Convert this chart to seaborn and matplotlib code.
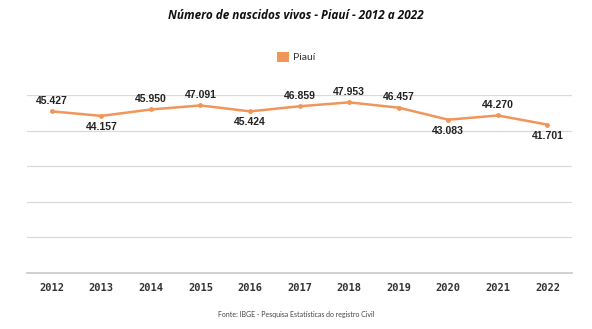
import matplotlib
matplotlib.use("Agg")
import matplotlib.pyplot as plt
import seaborn as sns
import pandas as pd
from matplotlib.patches import Patch

years = ["2012", "2013", "2014", "2015", "2016", "2017", "2018", "2019", "2020", "2021", "2022"]
values = [45427, 44157, 45950, 47091, 45424, 46859, 47953, 46457, 43083, 44270, 41701]
labels = ["45.427", "44.157", "45.950", "47.091", "45.424", "46.859", "47.953", "46.457", "43.083", "44.270", "41.701"]
above = [True, False, True, True, False, True, True, True, False, True, False]

sns.set_style("white")
plt.rcParams['font.family'] = ['DejaVu Sans']

df = pd.DataFrame({"Ano": years, "Nascidos": values})
color = "#F0965A"

fig = plt.figure(figsize=(5.92, 3.29), dpi=100)
ax = fig.add_axes([0.0456, 0.170, 0.921, 0.541])
sns.lineplot(data=df, x="Ano", y="Nascidos", ax=ax, color=color, linewidth=1.8,
             marker="o", markersize=3.5, markeredgewidth=0, sort=False)
ax.set_xlim(-0.5, len(years) - 0.5)
ax.set_ylim(0, 50000)
ax.set_yticks(range(0, 50001, 10000))
ax.set_yticklabels([])
ax.grid(axis="y", color="#D9D9D9", linewidth=0.9)
ax.tick_params(axis="y", length=0)
ax.tick_params(axis="x", length=0, pad=7)
for t in ax.get_xticklabels():
    t.set_fontweight("bold")
    t.set_color("#333333")
    t.set_family("DejaVu Sans Mono")
    t.set_fontsize(7.5)
for s in ["top", "right", "left"]:
    ax.spines[s].set_visible(False)
ax.spines["bottom"].set_color("#C8C8C8")
ax.spines["bottom"].set_linewidth(1.2)
ax.set_xlabel("")
ax.set_ylabel("")

for i, (v, lab, up) in enumerate(zip(values, labels, above)):
    ax.annotate(lab, (i, v), xytext=(0, 7.5 if up else -8), textcoords="offset points",
                ha="center", va="center", fontsize=7.5, fontweight="bold", color="#222222",
                family="Liberation Sans")

fig.text(0.5, 0.952, "Número de nascidos vivos - Piauí - 2012 a 2022", ha="center", va="center",
         fontsize=8.5, fontweight="bold", style="italic", color="#111111", family="Open Sans")

leg = fig.legend(handles=[Patch(facecolor=color, edgecolor="none")], labels=["Piauí"],
                 loc="center", bbox_to_anchor=(0.5, 0.827), frameon=False, fontsize=7.5,
                 handlelength=1.1, handleheight=1.1, handletextpad=0.4)
for t in leg.get_texts():
    t.set_color("#333333")
    t.set_family("Lato")

fig.text(0.5, 0.045, "Fonte: IBGE - Pesquisa Estatísticas do registro Civil", ha="center", va="center",
         fontsize=5, color="#444444", family="Lato")

fig.savefig("out.png", dpi=100, facecolor="white")
